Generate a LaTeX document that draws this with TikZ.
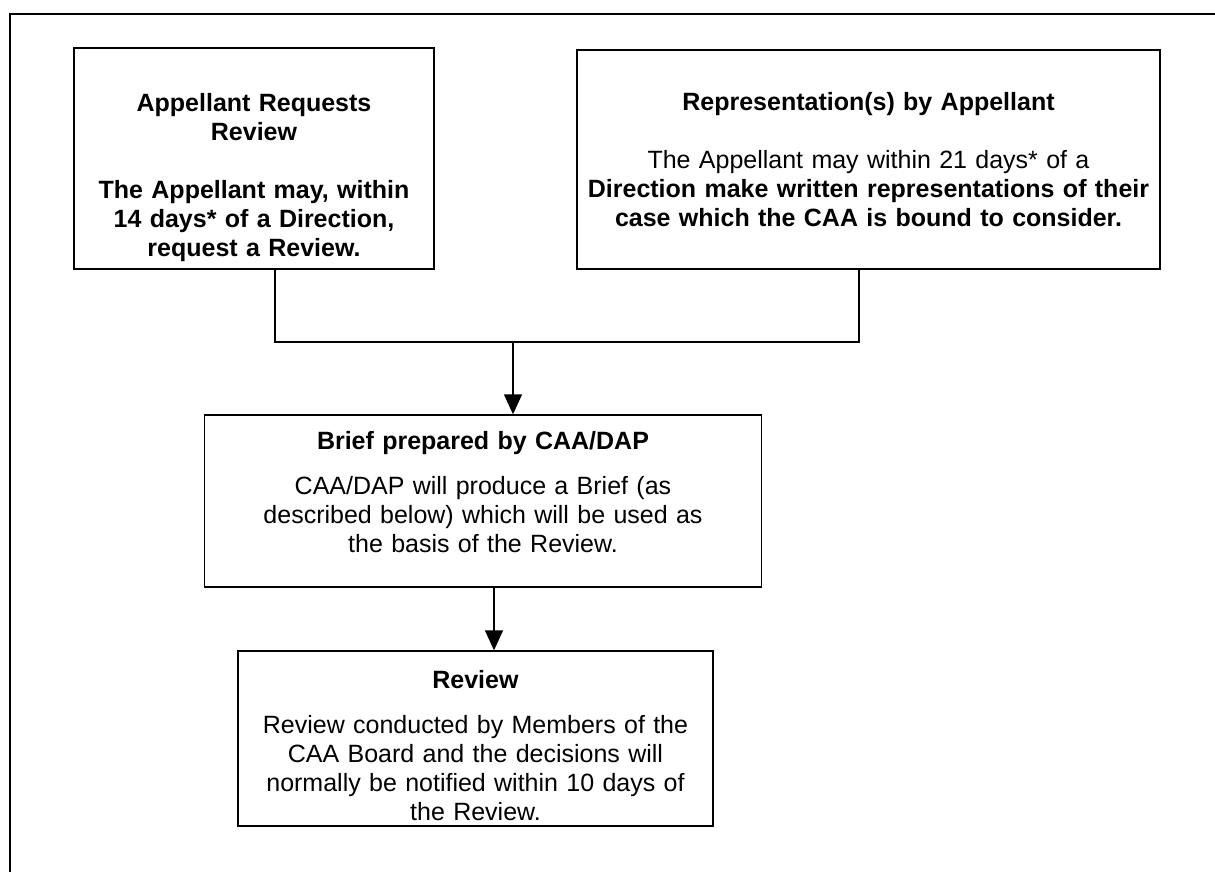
\documentclass[tikz,border=0pt]{standalone}
\usepackage{fontspec}
\setmainfont{Liberation Sans}
\usetikzlibrary{arrows.meta}
\tikzset{
  stepbox/.style={draw,line width=0.7pt,inner sep=0pt,align=center,font=\fontsize{12.5}{14.5}\selectfont},
  arr/.style={-{Triangle[length=10pt,width=9pt]},line width=0.7pt}
}

\begin{document}
\begin{tikzpicture}[x=0.5pt,y=-0.5pt]
\useasboundingbox (0,0) rectangle (1215,872);
\draw[line width=1.2pt] (10,872) -- (10,14) -- (1215,14);

% the two ways of appeal
\node[stepbox,text width=180pt,minimum height=110.5pt] (req) at (254,158.5)
  {\bfseries\rule{0pt}{28pt}Appellant Requests\\Review\\[14.5pt]The Appellant may, within\\14 days* of a Direction,\\request a Review.};
\node[stepbox,text width=291.5pt,minimum height=109.5pt] (rep) at (868.5,159.5)
  {\textbf{Representation(s) by Appellant}\\[14.5pt]The Appellant may within 21 days* of a\\\textbf{Direction make written representations of their}\\\textbf{case which the CAA is bound to consider.}};

\node[stepbox,text width=278.5pt,minimum height=86pt] (brief) at (483,501)
  {\textbf{Brief prepared by CAA/DAP}\\[8pt]CAA/DAP will produce a Brief (as\\described below) which will be used as\\the basis of the Review.\rule[-9pt]{0pt}{9pt}};
\node[stepbox,text width=237.5pt,minimum height=87.5pt] (review) at (475.5,738.5)
  {\rule{0pt}{16pt}\textbf{Review}\\[8pt]Review conducted by Members of the\\CAA Board and the decisions will\\normally be notified within 10 days of\\the Review.};

\coordinate (forkL) at (275,342);
\coordinate (forkR) at (859,342);
\coordinate (forkM) at (513,342);
\coordinate (stem) at (494,600);

\draw[line width=0.7pt] (req.south -| forkL) -- (forkL) -- (forkR) -- (rep.south -| forkR);
\draw[arr] (forkM) -- (brief.north -| forkM);
\draw[arr] (brief.south -| stem) -- (review.north -| stem);

\end{tikzpicture}
\end{document}
